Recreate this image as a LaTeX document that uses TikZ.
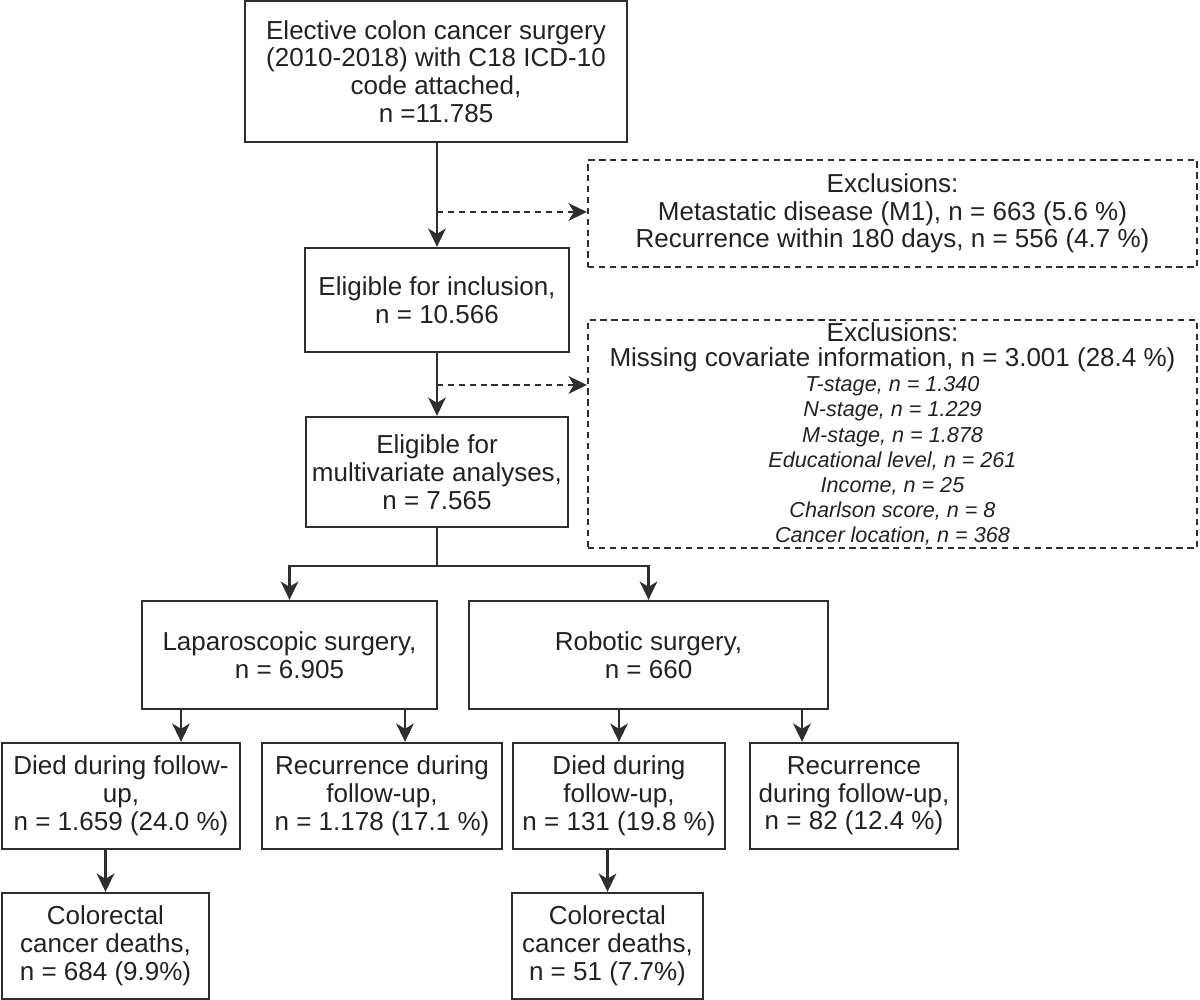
\documentclass[tikz,border=0pt]{standalone}
\usepackage{fontspec}
\setmainfont{Liberation Sans}
\definecolor{boxLine}{HTML}{2E2E2E}
\definecolor{boxText}{HTML}{222222}
\usetikzlibrary{arrows.meta}
\newcommand{\exsmall}{\fontsize{6.15}{7.2}\selectfont\itshape}

\begin{document}
\begin{tikzpicture}[font=\fontsize{7.4}{7.9}\selectfont, text=boxText,
  box/.style={draw=boxLine, line width=0.65pt, align=center, inner sep=0pt},
  exbox/.style={box, dash pattern=on 1.8pt off 1.3pt},
  arr/.style={draw=boxLine, line width=0.65pt, -{Stealth[length=5.2pt,width=5pt,inset=1.5pt]}},
  exarr/.style={arr, dash pattern=on 1.8pt off 1.3pt}]
\useasboundingbox (0,0) rectangle (12,10);
% cohort
\node[box, minimum width=3.82cm, minimum height=1.41cm] (top) at (4.36,9.285)
  {Elective colon cancer surgery\\(2010-2018) with C18 ICD-10\\code attached,\\n =11.785};
\node[box, minimum width=2.64cm, minimum height=1.04cm] (elig) at (4.37,7.00)
  {Eligible for inclusion,\\n = 10.566};
\node[box, minimum width=2.62cm, minimum height=1.10cm] (multi) at (4.37,5.28)
  {Eligible for\\multivariate analyses,\\n = 7.565};
% exclusions
\node[exbox, minimum width=6.09cm, minimum height=1.07cm] (excl1) at (8.925,7.865)
  {Exclusions:\\Metastatic disease (M1), n = 663 (5.6 \%)\\Recurrence within 180 days, n = 556 (4.7 \%)};
\node[exbox, minimum width=6.09cm, minimum height=2.28cm, font=\fontsize{7.4}{7.15}\selectfont] (excl2) at (8.925,5.66)
  {Exclusions:\\Missing covariate information, n = 3.001 (28.4 \%)\\
   \exsmall T-stage, n = 1.340\\\exsmall N-stage, n = 1.229\\\exsmall M-stage, n = 1.878\\
   \exsmall Educational level, n = 261\\\exsmall Income, n = 25\\
   \exsmall Charlson score, n = 8\\\exsmall Cancer location, n = 368};
% surgery groups
\node[box, minimum width=2.95cm, minimum height=1.08cm] (lap) at (2.895,3.45)
  {Laparoscopic surgery,\\n = 6.905};
\node[box, minimum width=3.59cm, minimum height=1.08cm] (rob) at (6.485,3.45)
  {Robotic surgery,\\n = 660};
% outcomes
\node[box, minimum width=2.38cm, minimum height=1.06cm] (died1) at (1.21,2.04)
  {Died during follow-\\up,\\n = 1.659 (24.0 \%)};
\node[box, minimum width=2.40cm, minimum height=1.06cm] (rec1) at (3.82,2.04)
  {Recurrence during\\follow-up,\\n = 1.178 (17.1 \%)};
\node[box, minimum width=2.12cm, minimum height=1.06cm] (died2) at (6.19,2.04)
  {Died during\\follow-up,\\n = 131 (19.8 \%)};
\node[box, minimum width=2.08cm, minimum height=1.06cm] (rec2) at (8.54,2.04)
  {Recurrence\\during follow-up,\\n = 82 (12.4 \%)};
\node[box, minimum width=2.07cm, minimum height=1.06cm] (crc1) at (1.055,0.54)
  {Colorectal\\cancer deaths,\\n = 684 (9.9\%)};
\node[box, minimum width=1.91cm, minimum height=1.06cm] (crc2) at (6.075,0.54)
  {Colorectal\\cancer deaths,\\n = 51 (7.7\%)};
% connectors
\coordinate (b1) at (4.37,7.88);
\coordinate (b2) at (4.37,6.15);
\coordinate (split) at (4.37,4.34);
\draw[arr] (elig.north |- top.south) -- (elig.north);
\draw[exarr] (b1) -- (b1 -| excl1.west);
\draw[arr] (elig.south) -- (multi.north);
\draw[exarr] (b2) -- (b2 -| excl2.west);
\draw[boxLine, line width=0.65pt] (multi.south) -- (split);
\draw[arr] (split) -| (lap.north);
\draw[arr] (split) -| (rob.north);
\draw[arr] ([xshift=-1.085cm]lap.south) -- ([xshift=-1.085cm]lap.south |- died1.north);
\draw[arr] ([xshift=1.155cm]lap.south) -- ([xshift=1.155cm]lap.south |- rec1.north);
\draw[arr] (died2.north |- rob.south) -- (died2.north);
\draw[arr] ([xshift=1.535cm]rob.south) -- ([xshift=1.535cm]rob.south |- rec2.north);
\draw[arr] (crc1.north |- died1.south) -- (crc1.north);
\draw[arr] (crc2.north |- died2.south) -- (crc2.north);
\end{tikzpicture}
\end{document}
